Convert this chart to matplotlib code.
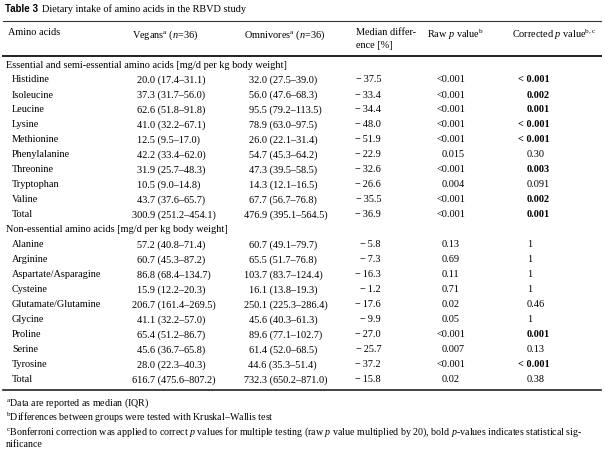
import matplotlib.pyplot as plt
from matplotlib.lines import Line2D

plt.rcParams['font.family'] = ['Liberation Serif', 'DejaVu Serif']
plt.rcParams['mathtext.fontset'] = 'custom'
plt.rcParams['mathtext.rm'] = 'Liberation Serif'
plt.rcParams['mathtext.it'] = 'Liberation Serif:italic'
plt.rcParams['mathtext.bf'] = 'Liberation Serif:bold'

# table content
section1 = "Essential and semi-essential amino acids [mg/d per kg body weight]"
section2 = "Non-essential amino acids [mg/d per kg body weight]"

names1 = ["Histidine", "Isoleucine", "Leucine", "Lysine", "Methionine", "Phenylalanine",
          "Threonine", "Tryptophan", "Valine", "Total"]
vegans1 = ["20.0 (17.4–31.1)", "37.3 (31.7–56.0)", "62.6 (51.8–91.8)", "41.0 (32.2–67.1)",
           "12.5 (9.5–17.0)", "42.2 (33.4–62.0)", "31.9 (25.7–48.3)", "10.5 (9.0–14.8)",
           "43.7 (37.6–65.7)", "300.9 (251.2–454.1)"]
omni1 = ["32.0 (27.5–39.0)", "56.0 (47.6–68.3)", "95.5 (79.2–113.5)", "78.9 (63.0–97.5)",
         "26.0 (22.1–31.4)", "54.7 (45.3–64.2)", "47.3 (39.5–58.5)", "14.3 (12.1–16.5)",
         "67.7 (56.7–76.8)", "476.9 (395.1–564.5)"]
diff1 = [-37.5, -33.4, -34.4, -48.0, -51.9, -22.9, -32.6, -26.6, -35.5, -36.9]
rawp1 = ["<0.001", "<0.001", "<0.001", "<0.001", "<0.001", "0.015", "<0.001", "0.004", "<0.001", "<0.001"]
corp1 = ["< 0.001", "0.002", "0.001", "< 0.001", "< 0.001", "0.30", "0.003", "0.091", "0.002", "0.001"]
bold1 = [True, True, True, True, True, False, True, False, True, True]

names2 = ["Alanine", "Arginine", "Aspartate/Asparagine", "Cysteine", "Glutamate/Glutamine",
          "Glycine", "Proline", "Serine", "Tyrosine", "Total"]
vegans2 = ["57.2 (40.8–71.4)", "60.7 (45.3–87.2)", "86.8 (68.4–134.7)", "15.9 (12.2–20.3)",
           "206.7 (161.4–269.5)", "41.1 (32.2–57.0)", "65.4 (51.2–86.7)", "45.6 (36.7–65.8)",
           "28.0 (22.3–40.3)", "616.7 (475.6–807.2)"]
omni2 = ["60.7 (49.1–79.7)", "65.5 (51.7–76.8)", "103.7 (83.7–124.4)", "16.1 (13.8–19.3)",
         "250.1 (225.3–286.4)", "45.6 (40.3–61.3)", "89.6 (77.1–102.7)", "61.4 (52.0–68.5)",
         "44.6 (35.3–51.4)", "732.3 (650.2–871.0)"]
diff2 = [-5.8, -7.3, -16.3, -1.2, -17.6, -9.9, -27.0, -25.7, -37.2, -15.8]
rawp2 = ["0.13", "0.69", "0.11", "0.71", "0.02", "0.05", "<0.001", "0.007", "<0.001", "0.02"]
corp2 = ["1", "1", "1", "1", "0.46", "1", "0.001", "0.13", "< 0.001", "0.38"]
bold2 = [False, False, False, False, False, False, True, False, True, False]

headers = ["Amino acids", r"Vegans$^{\mathrm{a}}$ ($n\!=\!36$)", r"Omnivores$^{\mathrm{a}}$ ($n\!=\!36$)",
           "Median differ-\nence [%]", r"Raw $p$ value$^{\mathrm{b}}$", r"Corrected $p$ value$^{\mathrm{b,c}}$"]
header_x = [8, 132, 244, 356, 427, 512]

footnotes = [r"$^{\mathrm{a}}$Data are reported as median (IQR)",
             r"$^{\mathrm{b}}$Differences between groups were tested with Kruskal–Wallis test",
             r"$^{\mathrm{c}}$Bonferroni correction was applied to correct $p$ values for multiple testing "
             r"(raw $p$ value multiplied by 20), bold $p$-values indicates statistical sig-",
             "nificance"]

W, H = 605, 456
fig = plt.figure(figsize=(W / 100, H / 100), dpi=100)
ax = fig.add_axes([0, 0, 1, 1])
ax.set_xlim(0, W)
ax.set_ylim(H, 0)
ax.axis('off')
renderer = fig.canvas.get_renderer()

fs = 7.4


def dec_text(x, y, s, weight='normal'):
    # align on the first decimal point: shift by the width of the integer part
    if '.' in s:
        left = s[:s.index('.')]
    else:
        left = s
    probe = ax.text(0, 0, left, fontsize=fs, fontweight=weight)
    w = probe.get_window_extent(renderer).width
    probe.remove()
    ax.text(x - w, y, s, ha='left', va='center', fontsize=fs, fontweight=weight)


# title
ax.text(5, 9, "Table 3", fontsize=7.0, fontweight='bold', family='Liberation Sans',
        ha='left', va='center')
ax.text(42, 9, "Dietary intake of amino acids in the RBVD study", fontsize=fs, ha='left', va='center')

# rules
ax.add_line(Line2D([3, 601], [22, 22], color='#333333', lw=0.8))
ax.add_line(Line2D([3, 601], [57, 57], color='#222222', lw=1.4))
ax.add_line(Line2D([3, 601], [391, 391], color='#222222', lw=1.2))

# header
for hx, h in zip(header_x, headers):
    ax.text(hx, 28, h, fontsize=fs, ha='left', va='top', linespacing=1.6)

# body
y0 = 65
step = 15
blocks = [(section1, names1, vegans1, omni1, diff1, rawp1, corp1, bold1),
          (section2, names2, vegans2, omni2, diff2, rawp2, corp2, bold2)]
y = y0
for sec, names, veg, omn, dif, rp, cp, bd in blocks:
    ax.text(6, y, sec, fontsize=fs, ha='left', va='center')
    y += step
    for n, v, o, d, r, c, b in zip(names, veg, omn, dif, rp, cp, bd):
        ax.text(12, y, n, fontsize=fs, ha='left', va='center')
        dec_text(147, y, v)
        dec_text(259, y, o)
        ax.text(381, y, "−\u2009%.1f" % abs(d), fontsize=fs, ha='right', va='center')
        dec_text(447, y, r)
        dec_text(532, y, c, weight='bold' if b else 'normal')
        y += step

# footnotes
fy = [403, 418, 432, 445]
for yy, t in zip(fy, footnotes):
    ax.text(6, yy, t, fontsize=7.2, ha='left', va='center')

fig.savefig("out.png", dpi=100)
